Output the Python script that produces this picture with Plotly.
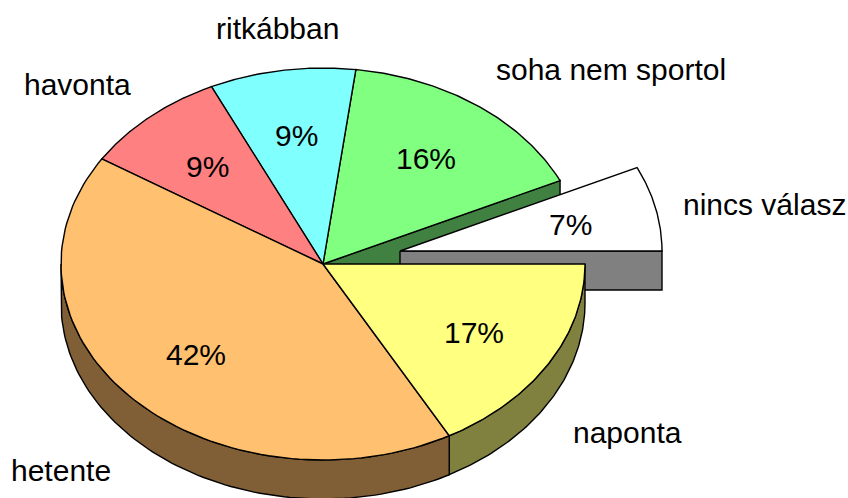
import numpy as np
import plotly.graph_objects as go

categories = ["naponta", "hetente", "havonta", "ritkábban", "soha nem sportol", "nincs válasz"]
values = [17, 42, 9, 9, 16, 7]
top_colors = ["#FFFF80", "#FFC06F", "#FF8080", "#80FFFF", "#80FF80", "#FFFFFF"]
side_colors = ["#80803F", "#805F36", "#804040", "#408080", "#408040", "#808080"]

# Pixel geometry of the tilted pie
CX, CY, RX, RY, DEPTH = 323.0, 264.0, 262.0, 196.0, 39.0
EXPLODE = {5: (77.0, -13.0)}
LABEL_POS = [(627, 432), (61, 470), (77, 84), (277, 28), (611, 69), (764, 204)]
PCT_POS = [(474, 332), (196, 354), (207, 166), (296, 135), (426, 158), (570, 224)]

def angles(i):
    s = sum(values)
    a0 = 360 * sum(values[:i]) / s
    a1 = 360 * sum(values[:i + 1]) / s
    return a0, a1

def arc(i, a0=None, a1=None, dy=0.0):
    lo, hi = angles(i)
    a0 = lo if a0 is None else a0
    a1 = hi if a1 is None else a1
    ox, oy = EXPLODE.get(i, (0.0, 0.0))
    t = np.radians(np.linspace(a0, a1, 90))
    return CX + ox + RX * np.cos(t), CY + oy + RY * np.sin(t) + dy

def centre(i):
    ox, oy = EXPLODE.get(i, (0.0, 0.0))
    return CX + ox, CY + oy

fig = go.Figure()

def poly(x, y, color):
    fig.add_trace(go.Scatter(
        x=list(x), y=list(y), mode="lines", fill="toself", fillcolor=color,
        line=dict(color="black", width=1.4), hoverinfo="skip", showlegend=False))

def top(i):
    x, y = arc(i)
    c = centre(i)
    poly([c[0], *x, c[0]], [c[1], *y, c[1]], top_colors[i])

def rim(i, a0, a1):
    x, y = arc(i, a0, a1)
    xb, yb = arc(i, a0, a1, DEPTH)
    poly([*x, *xb[::-1], x[0]], [*y, *yb[::-1], y[0]], side_colors[i])

def cut_wall(i, ang):
    x, y = arc(i, ang, ang)
    c = centre(i)
    poly([c[0], x[0], x[0], c[0], c[0]],
         [c[1], y[0], y[0] + DEPTH, c[1] + DEPTH, c[1]], side_colors[i])

# back to front
cut_wall(4, angles(4)[1])
top(4)
top(3)
top(2)
cut_wall(5, 360)
top(5)
rim(0, 0, angles(0)[1])
rim(1, angles(1)[0], 180)
top(1)
top(0)

ann = []
for name, (x, y) in zip(categories, LABEL_POS):
    ann.append(dict(x=x, y=y, text=name, showarrow=False, xanchor="center", yanchor="middle"))
for v, (x, y) in zip(values, PCT_POS):
    ann.append(dict(x=x, y=y, text=f"{v}%", showarrow=False, xanchor="center", yanchor="middle"))

fig.update_layout(
    width=848, height=498, margin=dict(l=0, r=0, t=0, b=0),
    paper_bgcolor="white", plot_bgcolor="white",
    font=dict(family="Liberation Sans", size=30, color="black"),
    xaxis=dict(range=[0, 848], visible=False, fixedrange=True),
    yaxis=dict(range=[498, 0], visible=False, fixedrange=True),
    annotations=ann, showlegend=False,
)
fig.write_html("out.html", config={"displayModeBar": False},
               post_script="document.body.style.margin='0';document.body.style.overflow='hidden';")
